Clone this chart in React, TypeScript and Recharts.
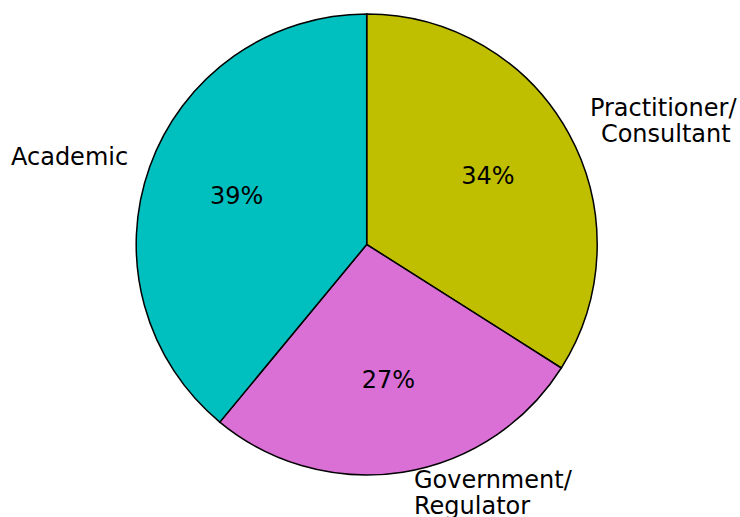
import React from 'react';
import { PieChart, Pie, Cell } from 'recharts';

if (typeof document !== 'undefined') {
  document.body.style.margin = '0';
  document.body.style.overflow = 'hidden';
}

const categories: string[][] = [['Practitioner/', 'Consultant'], ['Government/', 'Regulator'], ['Academic']];
const shares: number[] = [34, 27, 39];
const colors: string[] = ['#BFBF00', '#DA70D6', '#00BFBF'];

const data = categories.map((lines, i) => ({ name: lines.join(' '), lines, value: shares[i] }));

const RADIAN = Math.PI / 180;
const FONT = '"DejaVu Sans", Verdana, sans-serif';
const FS = 24;

const renderLabel = (props: any) => {
  const { cx, cy, midAngle, outerRadius, percent, index } = props;
  const c = Math.cos(-midAngle * RADIAN);
  const s = Math.sin(-midAngle * RADIAN);
  const pr = outerRadius * 0.6;
  const px = cx + pr * c;
  const py = cy + pr * s;
  const lr = outerRadius * 1.1;
  const lx = cx + lr * c;
  const ly = cy + lr * s;
  const lines: string[] = data[index].lines;
  const anchor = c >= 0 ? 'start' : 'end';
  const lineH = 26;
  const firstBase = ly + 6.5 - ((lines.length - 1) * lineH) / 2;
  const dxFor = (li: number) => {
    if (c < 0) return 0;
    if (index === 0) return li === 0 ? 1 : 12;
    return 7.6;
  };
  return (
    <g>
      <text x={px} y={py + 6.5} textAnchor="middle" fontFamily={FONT} fontSize={FS} fill="#000">
        {`${Math.round(percent * 100)}%`}
      </text>
      <text textAnchor={anchor} fontFamily={FONT} fontSize={FS} fill="#000">
        {lines.map((t, li) => (
          <tspan key={li} x={lx + dxFor(li)} y={firstBase + li * lineH}>
            {t}
          </tspan>
        ))}
      </text>
    </g>
  );
};

export default function App() {
  return (
    <div style={{ width: 740, height: 517, background: '#fff', overflow: 'hidden' }}>
      <PieChart width={740} height={517} margin={{ top: 0, right: 0, bottom: 0, left: 0 }}>
        <Pie
          data={data}
          dataKey="value"
          nameKey="name"
          cx={366.7}
          cy={244.5}
          outerRadius={230.5}
          startAngle={90}
          endAngle={-270}
          stroke="#000"
          strokeWidth={1.5}
          label={renderLabel}
          labelLine={false}
          isAnimationActive={false}
        >
          {data.map((d, i) => (
            <Cell key={d.name} fill={colors[i]} stroke="#000" strokeWidth={1.5} />
          ))}
        </Pie>
      </PieChart>
    </div>
  );
}
